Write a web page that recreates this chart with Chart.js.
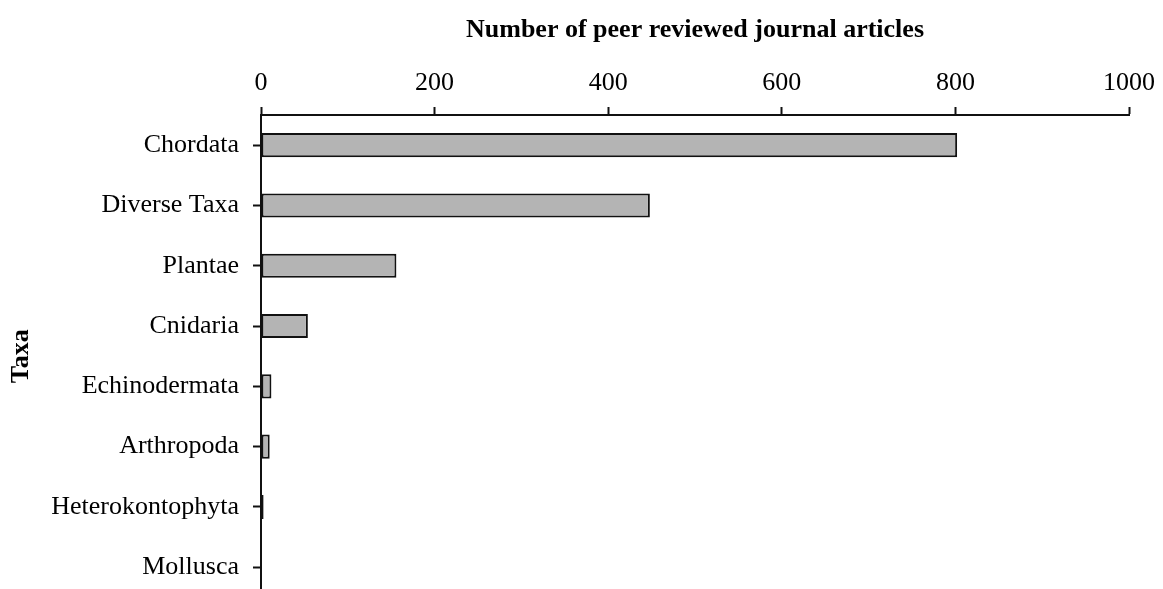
<!DOCTYPE html>
<html>
<head>
<meta charset="utf-8">
<script src="https://cdn.jsdelivr.net/npm/chart.js@4"></script>
<style>
  html, body { margin: 0; padding: 0; background: #fff; overflow: hidden; }
  canvas { display: block; }
</style>
</head>
<body>
<canvas id="taxaChart" width="1163" height="627"></canvas>
<script>
// ==========================
// Data
// ==========================

const taxa = [
  "Chordata",
  "Diverse Taxa",
  "Plantae",
  "Cnidaria",
  "Echinodermata",
  "Arthropoda",
  "Heterokontophyta",
  "Mollusca",
];
const articleCounts = [802, 448, 156, 54, 12, 10, 3, 0];
const xTicks = [0, 200, 400, 600, 800, 1000];

const xTitle = "Number of peer reviewed journal articles";
const yTitle = "Taxa";

// ==========================
// Chart
// ==========================

Chart.defaults.font.family = "'Liberation Serif', 'Times New Roman', serif";
Chart.defaults.color = "#000";

new Chart(document.getElementById("taxaChart"), {
  type: "bar",
  data: {
    labels: taxa,
    datasets: [
      {
        label: xTitle,
        data: articleCounts,
        backgroundColor: "#b4b4b4",
        borderColor: "#111",
        borderWidth: 2,
        borderSkipped: false,
        barPercentage: 0.8,
        categoryPercentage: 0.5,
      },
    ],
  },
  options: {
    indexAxis: "y",
    responsive: false,
    animation: false,
    layout: {
      padding: { left: 0, right: 33, top: 0, bottom: 4 },
    },
    plugins: {
      legend: { display: false },
      tooltip: { enabled: false },
    },
    scales: {
      x: {
        position: "top",
        min: 0,
        max: 1000,
        afterBuildTicks: (scale) => {
          scale.ticks = xTicks.map((v) => ({ value: v }));
        },
        afterFit: (scale) => {
          scale.height = 115;
        },
        grid: {
          drawOnChartArea: false,
          drawTicks: true,
          tickLength: 8,
          tickWidth: 2,
          tickColor: "#111",
        },
        border: { color: "#111", width: 2 },
        ticks: {
          padding: 8,
          font: { size: 26 },
          color: "#000",
          callback: (value) => String(value),
        },
        title: {
          display: true,
          text: xTitle,
          font: { size: 26, weight: "bold" },
          color: "#000",
          padding: { top: 15, bottom: 0 },
        },
      },
      y: {
        afterFit: (scale) => {
          scale.width = 261;
        },
        grid: {
          offset: false,
          drawOnChartArea: false,
          drawTicks: true,
          tickLength: 8,
          tickWidth: 2,
          tickColor: "#111",
        },
        border: { color: "#111", width: 2 },
        ticks: {
          padding: 14,
          font: { size: 26 },
          color: "#000",
        },
        title: {
          display: true,
          text: yTitle,
          font: { size: 26, weight: "bold" },
          color: "#000",
          padding: { top: 6, bottom: 0 },
        },
      },
    },
  },
});
</script>
</body>
</html>
